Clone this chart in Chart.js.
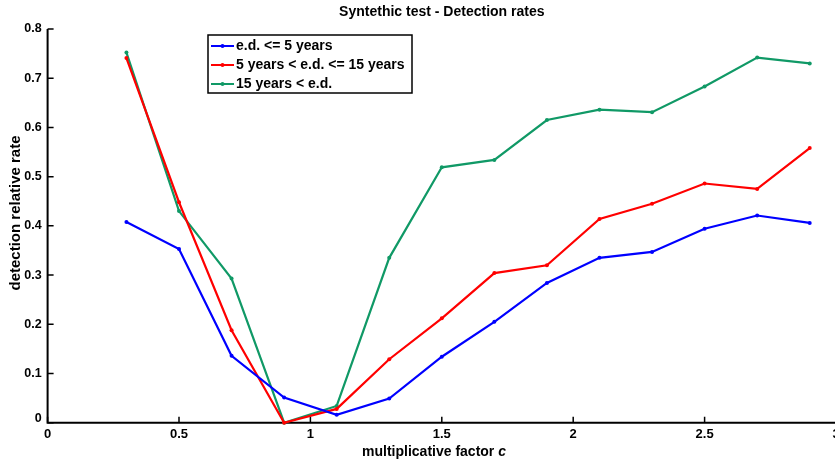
<!DOCTYPE html>
<html>
<head>
<meta charset="utf-8">
<title>Detection rates</title>
<script src="https://cdn.jsdelivr.net/npm/chart.js@4/dist/chart.umd.min.js"></script>
<style>
  html, body { margin: 0; padding: 0; background: #fff; overflow: hidden; }
  #wrap { width: 840px; height: 461px; }
</style>
</head>
<body>
<div id="wrap"><canvas id="chart" width="840" height="461"></canvas></div>
<script>
// multiplicative factor c
const factors = [0.3, 0.5, 0.7, 0.9, 1.1, 1.3, 1.5, 1.7, 1.9, 2.1, 2.3, 2.5, 2.7, 2.9];

// detection relative rate per error-duration class
const shortRates = [0.408, 0.353, 0.136, 0.051, 0.016, 0.049, 0.134, 0.205, 0.284, 0.335, 0.347, 0.394, 0.421, 0.406];
const midRates   = [0.741, 0.448, 0.188, 0.000, 0.028, 0.129, 0.212, 0.304, 0.320, 0.414, 0.445, 0.486, 0.475, 0.558];
const longRates  = [0.752, 0.430, 0.293, 0.000, 0.034, 0.335, 0.519, 0.534, 0.615, 0.636, 0.631, 0.683, 0.742, 0.730];

const seriesLabels = ["e.d. <= 5 years", "5 years < e.d. <= 15 years", "15 years < e.d."];
const seriesColors = ["#0000ff", "#ff0000", "#109966"];

const xTicks = [0, 0.5, 1, 1.5, 2, 2.5, 3];
const yTicks = [0, 0.1, 0.2, 0.3, 0.4, 0.5, 0.6, 0.7, 0.8];

const titleText = "Syntethic test - Detection rates";
const xTitle = "multiplicative factor ";
const xTitleVar = "c";
const yTitle = "detection relative rate";

const FONT = "'Liberation Sans', Arial, Helvetica, sans-serif";

function toPoints(values) {
  return values.map((v, i) => ({ x: factors[i], y: v }));
}

function makeDataset(label, values, color) {
  return {
    label: label,
    data: toPoints(values),
    borderColor: color,
    backgroundColor: color,
    borderWidth: 2.2,
    pointRadius: 2,
    pointBorderWidth: 0,
    pointBackgroundColor: color,
    tension: 0,
    clip: false
  };
}


// axes drawn MATLAB style: left + bottom lines, ticks pointing inward
const matlabAxes = {
  id: "matlabAxes",
  beforeDatasetsDraw(chart) {
    const ctx = chart.ctx;
    const area = chart.chartArea;
    const xs = chart.scales.x;
    const ys = chart.scales.y;
    const tick = 6;

    ctx.save();
    ctx.strokeStyle = "#000";
    ctx.lineWidth = 2;

    ctx.beginPath();
    ctx.moveTo(area.left, area.top);
    ctx.lineTo(area.left, area.bottom);
    ctx.lineTo(chart.width, area.bottom);
    ctx.stroke();

    ctx.lineWidth = 1.5;
    ctx.beginPath();
    xTicks.forEach(v => {
      const px = xs.getPixelForValue(v);
      ctx.moveTo(px, area.bottom);
      ctx.lineTo(px, area.bottom - tick);
    });
    yTicks.forEach(v => {
      const py = ys.getPixelForValue(v);
      ctx.moveTo(area.left, py);
      ctx.lineTo(area.left + tick, py);
    });
    ctx.stroke();
    ctx.restore();
  },

  afterDraw(chart) {
    const ctx = chart.ctx;
    const area = chart.chartArea;
    const xs = chart.scales.x;
    const ys = chart.scales.y;

    ctx.save();
    ctx.fillStyle = "#000";

    // tick labels
    ctx.font = "bold 13px " + FONT;
    ctx.textAlign = "center";
    ctx.textBaseline = "middle";
    xTicks.forEach(v => {
      ctx.fillText(String(v), xs.getPixelForValue(v), area.bottom + 11.5);
    });
    ctx.font = "bold 12.5px " + FONT;
    ctx.textAlign = "right";
    yTicks.forEach(v => {
      ctx.fillText(String(v), area.left - 6, ys.getPixelForValue(v) - (v === 0 ? 4 : 0));
    });

    // title
    ctx.font = "bold 14px " + FONT;
    ctx.textAlign = "center";
    ctx.fillText(titleText, (area.left + area.right) / 2, 12);

    // x axis title with italic variable
    ctx.font = "bold 14px " + FONT;
    const w1 = ctx.measureText(xTitle).width;
    ctx.font = "bold italic 14px " + FONT;
    const w2 = ctx.measureText(xTitleVar).width;
    const startX = 434 - (w1 + w2) / 2;
    ctx.textAlign = "left";
    ctx.font = "bold 14px " + FONT;
    ctx.fillText(xTitle, startX, 452);
    ctx.font = "bold italic 14px " + FONT;
    ctx.fillText(xTitleVar, startX + w1, 452);

    // y axis title
    ctx.font = "bold 15px " + FONT;
    ctx.textAlign = "center";
    ctx.translate(16, 213);
    ctx.rotate(-Math.PI / 2);
    ctx.fillText(yTitle, 0, 0);
    ctx.restore();

    // legend box
    const box = { left: 208, top: 35, right: 412, bottom: 93 };
    const rowY = [46, 65, 84];
    ctx.save();
    ctx.fillStyle = "#fff";
    ctx.fillRect(box.left, box.top, box.right - box.left, box.bottom - box.top);
    ctx.strokeStyle = "#000";
    ctx.lineWidth = 1.5;
    ctx.strokeRect(box.left, box.top, box.right - box.left, box.bottom - box.top);

    chart.data.datasets.forEach((ds, i) => {
      const y = rowY[i];
      ctx.strokeStyle = ds.borderColor;
      ctx.lineWidth = 2;
      ctx.beginPath();
      ctx.moveTo(211, y);
      ctx.lineTo(234, y);
      ctx.stroke();
      ctx.fillStyle = ds.borderColor;
      ctx.beginPath();
      ctx.arc(222.5, y, 2, 0, Math.PI * 2);
      ctx.fill();

      ctx.fillStyle = "#000";
      ctx.font = "bold 14px " + FONT;
      ctx.textAlign = "left";
      ctx.textBaseline = "middle";
      ctx.fillText(ds.label, 236, y);
    });
    ctx.restore();
  }
};


new Chart(document.getElementById("chart"), {
  type: "line",
  data: {
    datasets: [
      makeDataset(seriesLabels[0], shortRates, seriesColors[0]),
      makeDataset(seriesLabels[1], midRates, seriesColors[1]),
      makeDataset(seriesLabels[2], longRates, seriesColors[2])
    ]
  },
  options: {
    responsive: false,
    devicePixelRatio: 1,
    animation: false,
    layout: { padding: { left: 47.6, top: 29, right: 4, bottom: 38.3 } },
    scales: {
      x: { type: "linear", min: 0, max: 3, display: false },
      y: { type: "linear", min: 0, max: 0.8, display: false }
    },
    plugins: {
      legend: { display: false },
      title: { display: false },
      tooltip: { enabled: false }
    }
  },
  plugins: [matlabAxes]
});
</script>
</body>
</html>
